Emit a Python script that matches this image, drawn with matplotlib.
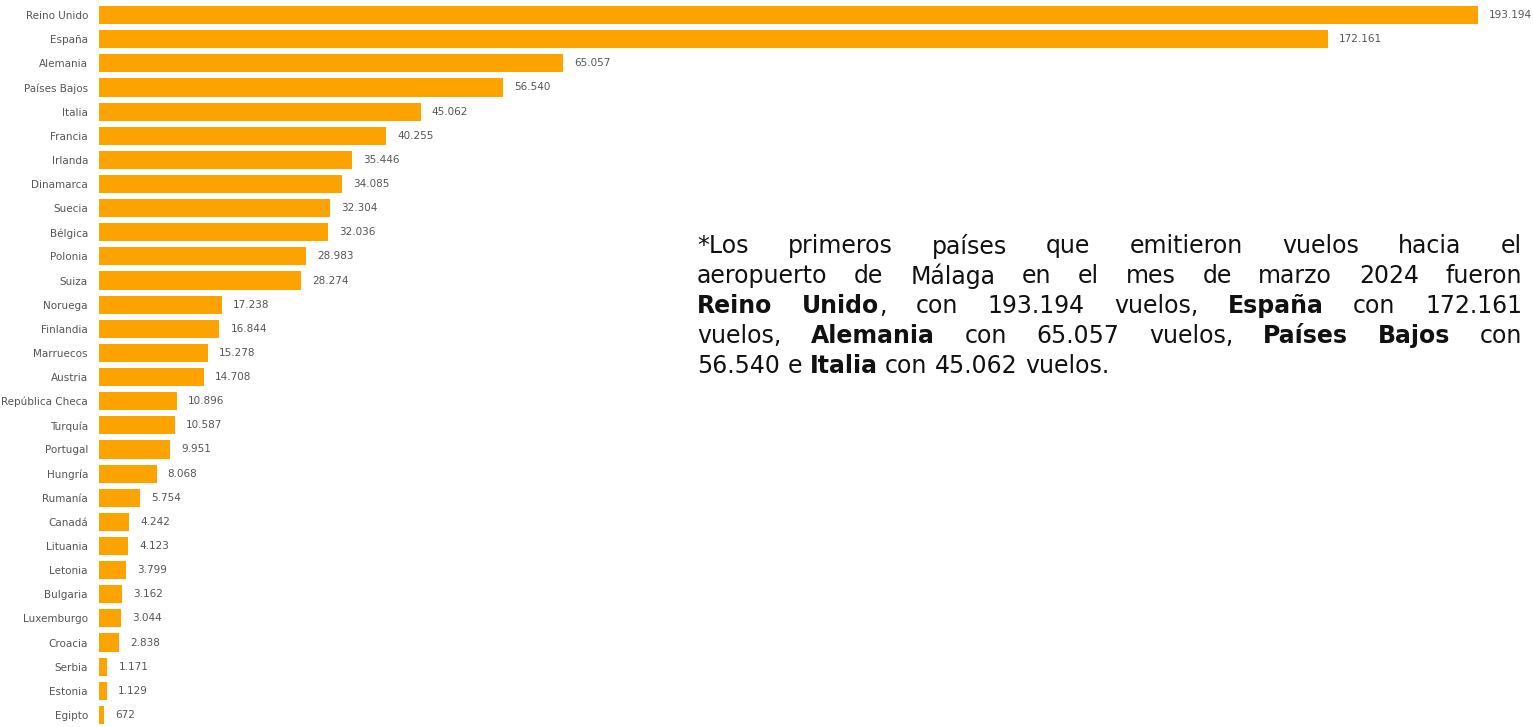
import matplotlib.pyplot as plt

# datos: vuelos por país (marzo 2024, aeropuerto de Málaga)
paises = ['Reino Unido', 'España', 'Alemania', 'Países Bajos', 'Italia', 'Francia',
          'Irlanda', 'Dinamarca', 'Suecia', 'Bélgica', 'Polonia', 'Suiza', 'Noruega',
          'Finlandia', 'Marruecos', 'Austria', 'República Checa', 'Turquía', 'Portugal',
          'Hungría', 'Rumanía', 'Canadá', 'Lituania', 'Letonia', 'Bulgaria',
          'Luxemburgo', 'Croacia', 'Serbia', 'Estonia', 'Egipto']
vuelos = [193194, 172161, 65057, 56540, 45062, 40255, 35446, 34085, 32304, 32036,
          28983, 28274, 17238, 16844, 15278, 14708, 10896, 10587, 9951, 8068,
          5754, 4242, 4123, 3799, 3162, 3044, 2838, 1171, 1129, 672]

# texto del comentario, por líneas (segmentos: texto, negrita)
lineas = [
    [[('*Los', False)], [('primeros', False)], [('países', False)], [('que', False)],
     [('emitieron', False)], [('vuelos', False)], [('hacia', False)], [('el', False)]],
    [[('aeropuerto', False)], [('de', False)], [('Málaga', False)], [('en', False)],
     [('el', False)], [('mes', False)], [('de', False)], [('marzo', False)],
     [('2024', False)], [('fueron', False)]],
    [[('Reino', True)], [('Unido', True), (',', False)], [('con', False)],
     [('193.194', False)], [('vuelos,', False)], [('España', True)], [('con', False)],
     [('172.161', False)]],
    [[('vuelos,', False)], [('Alemania', True)], [('con', False)], [('65.057', False)],
     [('vuelos,', False)], [('Países', True)], [('Bajos', True)], [('con', False)]],
    [[('56.540', False)], [('e', False)], [('Italia', True)], [('con', False)],
     [('45.062', False)], [('vuelos.', False)]],
]

W, H = 1533, 727
fig = plt.figure(figsize=(W / 100, H / 100), dpi=100)
ax = fig.add_axes([99 / W, 0.0, (1478 - 99) / W, 724 / H])

y = list(range(len(paises)))
ax.barh(y, vuelos, height=0.75, color='#FCA300')
ax.set_ylim(len(paises) - 0.5, -0.5)
ax.set_xlim(0, max(vuelos))

for yi, v in zip(y, vuelos):
    etiqueta = f'{v:,}'.replace(',', '.')
    ax.annotate(etiqueta, (v, yi), xytext=(8, 0), textcoords='offset points',
                va='center', ha='left', fontsize=7.5, color='#555555',
                annotation_clip=False)

ax.set_yticks(y)
ax.set_yticklabels(paises, fontsize=7.5, color='#555555')
ax.tick_params(axis='y', length=0, pad=8)
ax.set_xticks([])
for s in ax.spines.values():
    s.set_visible(False)

# párrafo justificado a la derecha
fuente = 'DejaVu Sans'
tam = 17
x0, x1 = 697, 1522
y_lineas = [246, 276, 306, 336, 366]
fig.canvas.draw()
renderer = fig.canvas.get_renderer()


def medir(texto, negrita):
    t = fig.text(0, 0, texto, fontsize=tam, family=fuente,
                 weight='bold' if negrita else 'normal')
    w = t.get_window_extent(renderer).width
    t.remove()
    return w


for i, linea in enumerate(y_lineas):
    palabras = lineas[i]
    anchos = [[medir(s, b) for s, b in p] for p in palabras]
    total = sum(sum(a) for a in anchos)
    if i < len(lineas) - 1:
        hueco = (x1 - x0 - total) / (len(palabras) - 1)
    else:
        hueco = medir('a a', False) - 2 * medir('a', False)
    x = x0
    for p, a in zip(palabras, anchos):
        for (s, b), w in zip(p, a):
            fig.text(x / W, 1 - linea / H, s, fontsize=tam, family=fuente,
                     weight='bold' if b else 'normal', color='#111111',
                     va='center', ha='left')
            x += w
        x += hueco

fig.savefig('out.png', dpi=100, facecolor='white')
